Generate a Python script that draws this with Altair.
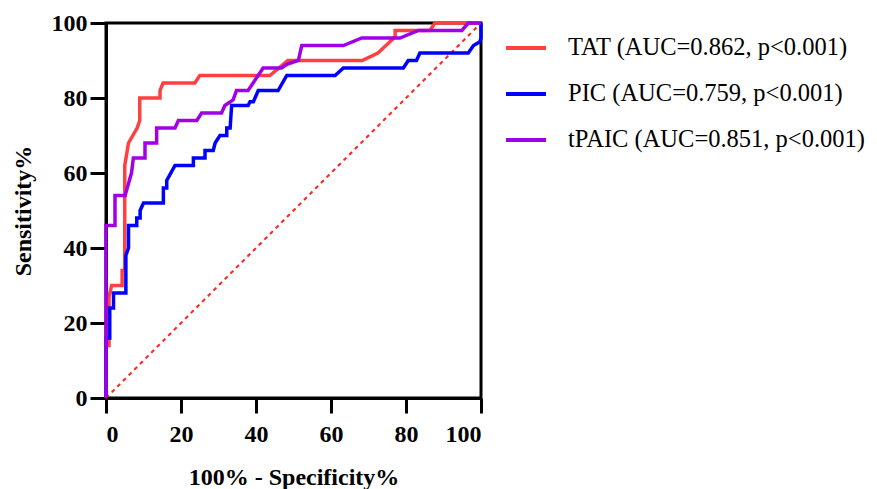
import altair as alt
import pandas as pd

# ---- data ----
series_names = ["TAT (AUC=0.862, p<0.001)", "PIC (AUC=0.759, p<0.001)", "tPAIC (AUC=0.851, p<0.001)"]
series_colors = ["#ff4040", "#0000ff", "#a000e6"]

tat_x = [0, 0, 0.8, 0.8, 1.5, 1.5, 4.3, 4.3, 5, 5, 5, 6, 8.3, 9, 9, 14.4, 14.4, 15.2, 23.7, 25,
         43.7, 48.5, 68.3, 72.5, 75.3, 77.1, 77.1, 86.4, 87.7, 100]
tat_y = [0, 14, 14, 27, 30, 30, 30, 34, 34, 40, 62, 68, 72, 74, 80, 80, 82, 84, 84, 86,
         86, 90, 90, 92, 94.6, 96.3, 98, 98, 100, 100]

pic_x = [0, 0, 1, 1, 2, 2, 5.3, 5.3, 6, 6, 8.2, 8.2, 9.1, 9.1, 10, 15.3, 15.3, 16.2, 16.2, 18.4,
         23.3, 23.3, 26.4, 26.4, 28.6, 29.1, 30.4, 32.2, 32.2, 33.1, 33.5, 37.9, 38.4, 39.3, 40.6,
         45.9, 48.2, 61.1, 63.3, 79.3, 80.6, 82.8, 83.7, 96.6, 98, 99.7, 100, 100]
pic_y = [0, 16, 16, 24, 24, 28, 28, 38, 40, 46, 46, 48, 48, 50, 52, 52, 56, 56, 58, 62,
         62, 64, 64, 66, 66, 68, 70, 70, 72, 72, 78, 78, 79, 79, 82,
         82, 86, 86, 88, 88, 90, 90, 92, 92, 94, 95, 96, 100]

tpaic_x = [0, 0, 2.4, 2.4, 5.1, 6.8, 7.3, 10.4, 10.4, 13.5, 13.5, 18.4, 19.3, 24.2, 25.5, 30.8,
           31.7, 33.9, 34.8, 37.9, 41.9, 46.8, 48.2, 51.3, 52.2, 63.3, 68.2, 78.4, 83.3, 94.9, 96.6, 100]
tpaic_y = [0, 46, 46, 54, 54, 60, 64, 64, 68, 68, 72, 72, 74, 74, 76, 76,
           78, 79.5, 82, 82, 88, 88, 89, 90, 94, 94, 96, 96, 98, 98, 100, 100]

ref_x = [0, 100]
ref_y = [0, 100]

tick_values = [0, 20, 40, 60, 80, 100]

# ---- build table ----
rows = []
for name, xs, ys in zip(series_names, [tat_x, pic_x, tpaic_x], [tat_y, pic_y, tpaic_y]):
    for i, (xv, yv) in enumerate(zip(xs, ys)):
        rows.append({"series": name, "x": xv, "y": yv, "idx": i})
df = pd.DataFrame(rows)
ref = pd.DataFrame({"x": ref_x, "y": ref_y})

FONT = "Liberation Serif"

xscale = alt.Scale(domain=[0, 100], nice=False, zero=True)
yscale = alt.Scale(domain=[0, 100], nice=False, zero=True)

diag = alt.Chart(ref).mark_line(color="#ff2020", strokeWidth=2, strokeDash=[4, 4]).encode(
    x=alt.X("x:Q", scale=xscale),
    y=alt.Y("y:Q", scale=yscale),
)

lines = alt.Chart(df).mark_line(strokeWidth=3.5, strokeJoin="miter").encode(
    x=alt.X("x:Q", scale=xscale,
            axis=alt.Axis(values=tick_values, title="100% - Specificity%")),
    y=alt.Y("y:Q", scale=yscale,
            axis=alt.Axis(values=tick_values, title="Sensitivity%")),
    color=alt.Color("series:N",
                    scale=alt.Scale(domain=series_names, range=series_colors),
                    sort=series_names,
                    legend=alt.Legend(title=None, orient="none", legendX=398, legendY=3,
                                      symbolType="stroke", symbolSize=1600,
                                      symbolStrokeWidth=4, labelFont=FONT,
                                      labelFontSize=24.5, labelColor="black",
                                      labelOffset=20, rowPadding=12,
                                      labelLimit=400)),
    order=alt.Order("idx:Q"),
)

chart = alt.layer(diag, lines).properties(
    width=375, height=375,
    autosize=alt.AutoSizeParams(type="none"),
    padding={"left": 98, "top": 15, "right": 388, "bottom": 91},
).configure_view(
    stroke="black", strokeWidth=3
).configure_axis(
    grid=False,
    domainColor="black", domainWidth=3,
    tickColor="black", tickWidth=3,
    labelFont=FONT, labelFontWeight="bold", labelFontSize=24, labelColor="black",
    titleFont=FONT, titleFontWeight="bold", titleFontSize=24, titleColor="black",
).configure_axisX(
    tickSize=15, labelPadding=9, titlePadding=19,
).configure_axisY(
    tickSize=16, labelPadding=3, titlePadding=16,
)

chart.save("out.html", embed_options={"renderer": "svg", "actions": False})
